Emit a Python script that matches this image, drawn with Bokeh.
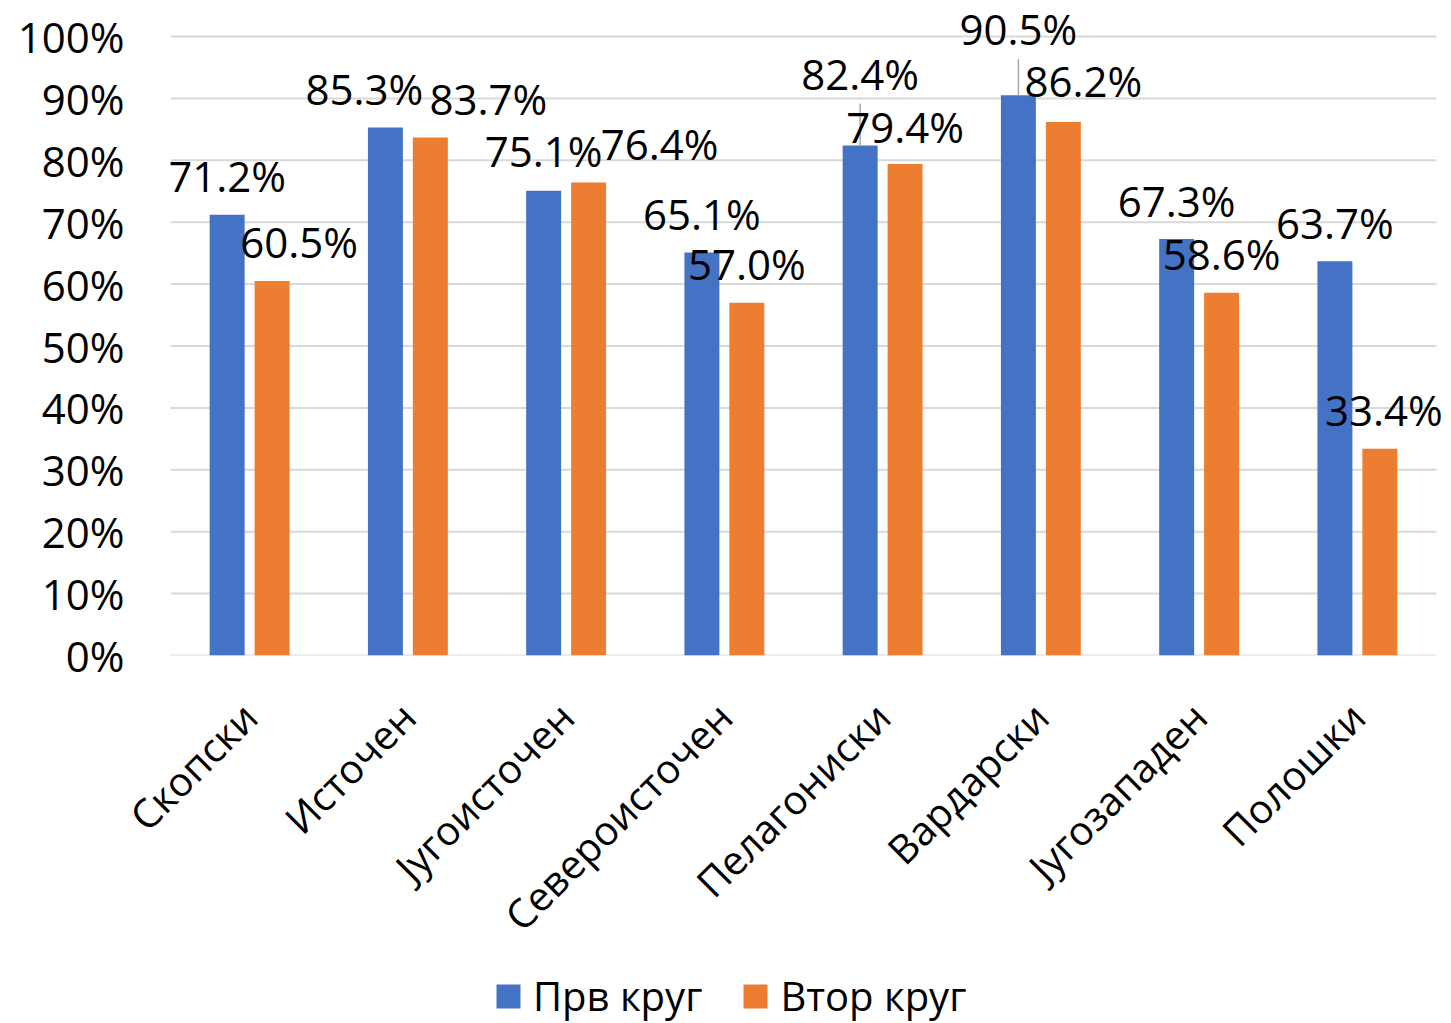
from bokeh.plotting import figure
from bokeh.models import (ColumnDataSource, Range1d, FixedTicker, PrintfTickFormatter,
                          Legend, LegendItem)
from bokeh.core.properties import value
from bokeh.layouts import column
from bokeh.embed import file_html
from bokeh.resources import INLINE

# ---------------- data ----------------
categories = ["Скопски", "Источен", "Југоисточен", "Североисточен",
              "Пелагониски", "Вардарски", "Југозападен", "Полошки"]
first_round = [71.2, 85.3, 75.1, 65.1, 82.4, 90.5, 67.3, 63.7]
second_round = [60.5, 83.7, 76.4, 57.0, 79.4, 86.2, 58.6, 33.4]
series_names = ["Прв круг", "Втор круг"]
y_ticks = [0, 10, 20, 30, 40, 50, 60, 70, 80, 90, 100]

# ---------------- layout (label placement in px, screen: up = negative) ----------------
first_dx = [0, -21, 0, 0, 0, 0, 0, 0]
first_dy = [-39, -39, -40, -39, -72, -67, -38, -39]
first_leader = [0, 0, 0, 0, 42, 36, 0, 0]
second_dx = [27, 58, 71, 0, 0, 20, 0, 4]
second_dy = [-40, -39, -39, -39, -38, -41, -39, -39]

FONT = "Open Sans"
FS_NUM = "42px"
FS_TXT = "40px"
BLUE = "#4472C4"
ORANGE = "#ED7D31"

W = 1445
H_MAIN = 965
ML = 170
CAT_PX = 1266 / 8.0          # px per category
FRAME_W = W - ML - 1         # frame extends a little past the last gridline for labels
TOP_PAD = 31                 # px above the 100% line inside the frame
px_per_unit = 619 / 100.0
MT = 36 - TOP_PAD
FRAME_H = 619 + TOP_PAD
MB = H_MAIN - MT - FRAME_H

n = len(categories)
x_end = FRAME_W / CAT_PX
y_end = 100 + TOP_PAD / px_per_unit

p = figure(x_range=Range1d(0, x_end), y_range=Range1d(0, y_end), width=W, height=H_MAIN,
           output_backend="svg", toolbar_location=None,
           min_border_left=ML, min_border_right=W - ML - FRAME_W, min_border_top=MT,
           min_border_bottom=MB)
p.outline_line_color = None
p.background_fill_color = "white"
p.border_fill_color = "white"

centers = [i + 0.5 for i in range(n)]
off = 0.142
bw = 0.221

# gridlines at the tick values, spanning the category area only
p.segment(x0=[0] * len(y_ticks), x1=[n] * len(y_ticks), y0=y_ticks, y1=y_ticks,
          line_color="#D9D9D9", line_width=2)

src1 = ColumnDataSource(dict(x=[c - off for c in centers], v=first_round,
                             lab=[f"{v:.1f}%" for v in first_round],
                             dx=first_dx, dy=first_dy))
src2 = ColumnDataSource(dict(x=[c + off for c in centers], v=second_round,
                             lab=[f"{v:.1f}%" for v in second_round],
                             dx=second_dx, dy=second_dy))

r1 = p.vbar(x="x", top="v", width=bw, bottom=0, source=src1,
            fill_color=BLUE, line_color=None)
r2 = p.vbar(x="x", top="v", width=bw, bottom=0, source=src2,
            fill_color=ORANGE, line_color=None)

# leader lines
lead_idx = [i for i, L in enumerate(first_leader) if L > 0]
src_lead = ColumnDataSource(dict(x=[centers[i] - off for i in lead_idx],
                                 y0=[first_round[i] for i in lead_idx],
                                 y1=[first_round[i] + first_leader[i] / px_per_unit for i in lead_idx]))
p.segment(x0="x", y0="y0", x1="x", y1="y1", source=src_lead,
          line_color="#A6A6A6", line_width=1.5)

for src in (src1, src2):
    p.text(x="x", y="v", text="lab", x_offset="dx", y_offset="dy", source=src,
           text_font=value(FONT), text_font_size=value(FS_NUM), text_color="black",
           text_align="center", text_baseline="middle")

# axes
p.yaxis.ticker = FixedTicker(ticks=y_ticks)
p.yaxis.formatter = PrintfTickFormatter(format="%d%%")
p.yaxis.axis_line_color = None
p.yaxis.major_tick_line_color = None
p.yaxis.minor_tick_line_color = None
p.yaxis.major_label_text_font = FONT
p.yaxis.major_label_text_font_size = FS_NUM
p.yaxis.major_label_text_color = "black"
p.yaxis.major_label_standoff = 40

p.xaxis.ticker = FixedTicker(ticks=centers)
p.xaxis.major_label_overrides = {c: name for c, name in zip(centers, categories)}
p.xaxis.axis_line_color = None
p.xaxis.major_tick_line_color = None
p.xaxis.minor_tick_line_color = None
p.xaxis.major_label_text_font = FONT
p.xaxis.major_label_text_font_size = FS_TXT
p.xaxis.major_label_text_color = "black"
p.xaxis.major_label_orientation = 0.7854
p.xaxis.major_label_standoff = 48

p.xgrid.grid_line_color = None
p.ygrid.grid_line_color = None

# ---------------- legend figure ----------------
LH = 58
lf = figure(width=W, height=LH, x_range=Range1d(0, 1), y_range=Range1d(0, 1),
            output_backend="svg", toolbar_location=None,
            x_axis_type=None, y_axis_type=None,
            min_border_left=0, min_border_right=0, min_border_top=0, min_border_bottom=0)
lf.outline_line_color = None
lf.background_fill_color = "white"
lf.border_fill_color = "white"
lf.xgrid.grid_line_color = None
lf.ygrid.grid_line_color = None
# swatch renderers placed outside the visible range (only their legend glyphs show)
hidden = dict(x=[-5.0], top=[-5.0])
lr1 = lf.vbar(x="x", top="top", bottom=-6.0, width=0.1, source=ColumnDataSource(hidden),
              fill_color=BLUE, line_color=None)
lr2 = lf.vbar(x="x", top="top", bottom=-6.0, width=0.1, source=ColumnDataSource(hidden),
              fill_color=ORANGE, line_color=None)
legend = Legend(items=[LegendItem(label=series_names[0], renderers=[lr1]),
                       LegendItem(label=series_names[1], renderers=[lr2])],
                orientation="horizontal", location=(323, 0),
                label_text_font=FONT, label_text_font_size=FS_TXT,
                label_text_color="black",
                glyph_width=30, glyph_height=30, label_standoff=10,
                spacing=38, padding=0, margin=0,
                border_line_color=None, background_fill_alpha=0)
lf.add_layout(legend, "center")

open("out.html", "w").write(file_html(column(p, lf, spacing=0), INLINE))
